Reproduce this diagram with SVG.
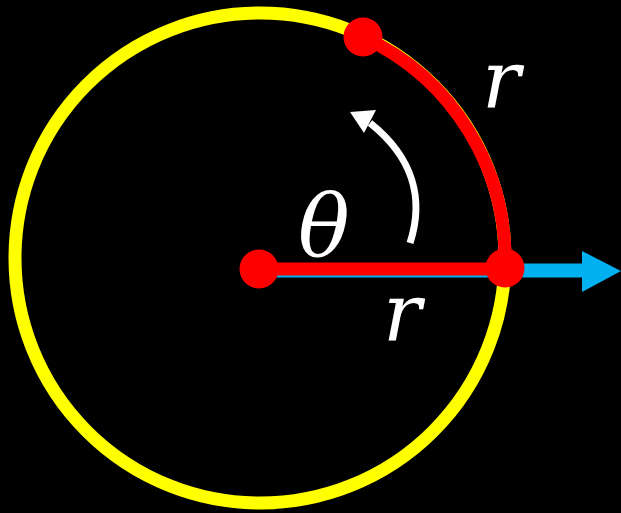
<svg xmlns="http://www.w3.org/2000/svg" width="621" height="513" viewBox="0 0 621 513">
<style>
.lbl{font-family:'DejaVu Serif',serif;font-style:italic;fill:#fff}
.dot{fill:#f00}
</style>
<rect x="0" y="0" width="621" height="513" fill="#000"/>
<g id="circle">
<circle cx="260" cy="258" r="245" fill="none" stroke="#ff0" stroke-width="13"/>
</g>
<g id="connectors">
<path d="M 363 37 A 245 245 0 0 1 505 268" fill="none" stroke="#f00" stroke-width="13"/>
<rect x="259" y="263.5" width="326" height="14" fill="#00b0f0"/>
<polygon points="582,251 621,271 582,292" fill="#00b0f0"/>
<line x1="259" y1="269" x2="505" y2="269" stroke="#f00" stroke-width="13"/>
<path d="M 410 243 C 424 200, 414 158, 370 123" fill="none" stroke="#fff" stroke-width="7"/>
<polygon points="350,112 376,110 364,133" fill="#fff"/>
</g>
<g id="center"><circle class="dot" cx="259" cy="269" r="19.5"/></g>
<g id="edge"><circle class="dot" cx="505" cy="268" r="19.5"/></g>
<g id="top"><circle class="dot" cx="363" cy="37" r="19.5"/></g>
<g id="labels">
<text class="lbl" x="482" y="108" font-size="80">r</text>
<text class="lbl" x="383" y="341" font-size="80">r</text>
<text class="lbl" x="298" y="256" font-size="86">θ</text>
</g>
</svg>
